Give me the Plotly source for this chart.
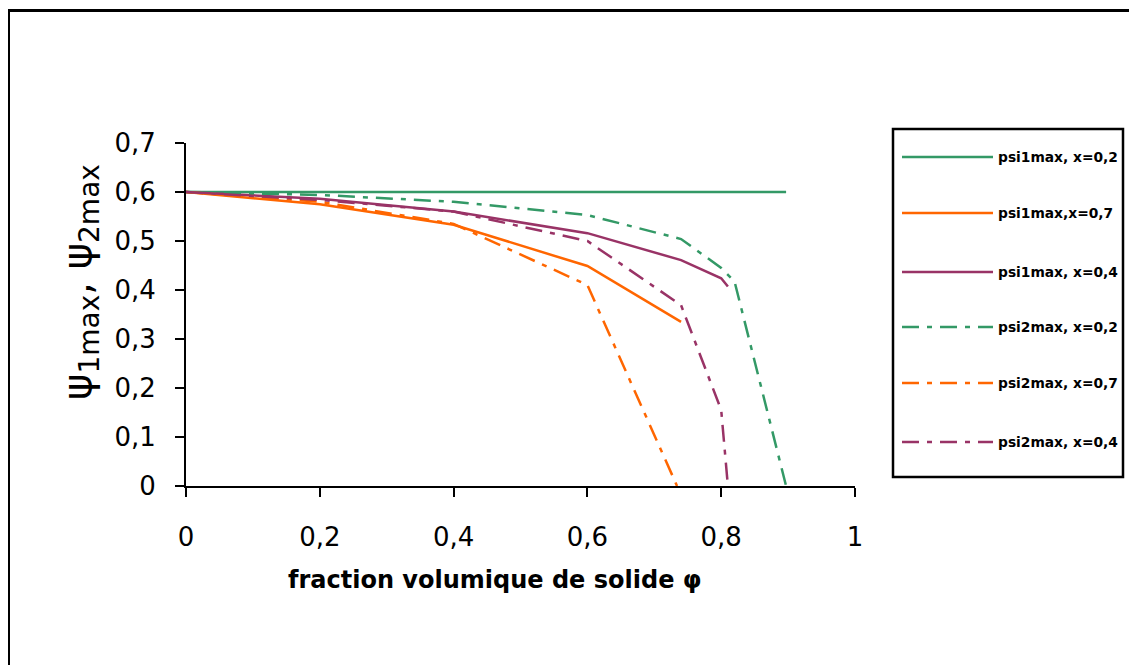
import plotly.graph_objects as go

# ---- data ----
phi_g1 = [0, 0.2, 0.4, 0.6, 0.74, 0.8, 0.82, 0.897]
psi1_x02 = [0.6, 0.6, 0.6, 0.6, 0.6, 0.6, 0.6, 0.6]

phi_o1 = [0, 0.2, 0.4, 0.6, 0.74]
psi1_x07 = [0.6, 0.575, 0.533, 0.449, 0.335]

phi_p1 = [0, 0.2, 0.4, 0.6, 0.74, 0.8, 0.81]
psi1_x04 = [0.6, 0.586, 0.56, 0.516, 0.461, 0.424, 0.407]

phi_g2 = [0, 0.2, 0.4, 0.6, 0.74, 0.8, 0.82, 0.897]
psi2_x02 = [0.6, 0.594, 0.58, 0.553, 0.504, 0.445, 0.417, 0.0]

phi_o2 = [0, 0.2, 0.4, 0.6, 0.734]
psi2_x07 = [0.6, 0.58, 0.535, 0.41, 0.0]

phi_p2 = [0, 0.2, 0.4, 0.6, 0.74, 0.8, 0.81]
psi2_x04 = [0.6, 0.584, 0.56, 0.5, 0.369, 0.155, 0.0]

names = ["psi1max, x=0,2", "psi1max,x=0,7", "psi1max, x=0,4",
         "psi2max, x=0,2", "psi2max, x=0,7", "psi2max, x=0,4"]

GREEN, ORANGE, PURPLE = "#339966", "#FF6600", "#993366"
DASH = "17px,8px,5px,8px"

series = [
    (phi_g1, psi1_x02, GREEN, "solid"),
    (phi_o1, psi1_x07, ORANGE, "solid"),
    (phi_p1, psi1_x04, PURPLE, "solid"),
    (phi_g2, psi2_x02, GREEN, DASH),
    (phi_o2, psi2_x07, ORANGE, DASH),
    (phi_p2, psi2_x04, PURPLE, DASH),
]

W, H = 1137, 665
OFF = 8  # page body margin
L, R, T, B = 186, 855, 143, 486  # plot area in screen px


def px(x):
    return (x - L) / (R - L)


def py(y):
    return (B - y) / (B - T)


fig = go.Figure()
for (xs, ys, col, dash), nm in zip(series, names):
    fig.add_trace(go.Scatter(x=xs, y=ys, mode="lines", name=nm,
                             line=dict(color=col, width=2.5, dash=dash),
                             showlegend=False))

shapes = []
annotations = []
# outer frame
shapes.append(dict(type="rect", xref="paper", yref="paper",
                   x0=px(8.5), x1=px(1160), y0=py(690), y1=py(10.5),
                   line=dict(color="black", width=3)))
# legend box
shapes.append(dict(type="rect", xref="paper", yref="paper",
                   x0=px(893), x1=px(1123), y0=py(477), y1=py(129),
                   line=dict(color="black", width=2.5), fillcolor="white", layer="below"))
leg_y = [157, 213, 272, 327, 383, 442]
for (xs, ys, col, dash), nm, yy in zip(series, names, leg_y):
    shapes.append(dict(type="line", xref="paper", yref="paper",
                       x0=px(902), x1=px(993), y0=py(yy), y1=py(yy),
                       line=dict(color=col, width=2.5, dash=dash)))
    annotations.append(dict(xref="paper", yref="paper", x=px(996), y=py(yy),
                            xanchor="left", yanchor="middle", showarrow=False,
                            text="<b>%s</b>" % nm,
                            font=dict(family="DejaVu Sans", size=13.8, color="black")))

# axis titles
annotations.append(dict(xref="paper", yref="paper", x=px(495), y=py(580),
                        xanchor="center", yanchor="middle", showarrow=False,
                        text="<b>fraction volumique de solide φ</b>",
                        font=dict(family="DejaVu Sans", size=24, color="black")))
annotations.append(dict(xref="paper", yref="paper", x=px(80), y=py(282),
                        xanchor="center", yanchor="middle", showarrow=False, textangle=-90,
                        text="ψ<sub>1max</sub>, ψ<sub>2max</sub>",
                        font=dict(family="DejaVu Sans", size=40, color="black")))

axis_common = dict(showline=True, linecolor="black", linewidth=2, ticks="outside",
                   ticklen=9, tickwidth=2, tickcolor="black", showgrid=False,
                   zeroline=False, tickfont=dict(family="DejaVu Sans", size=26, color="black"))

fig.update_layout(
    width=W, height=H,
    margin=dict(l=L - OFF, r=W - (R - OFF), t=T - OFF, b=H - (B - OFF), pad=0),
    paper_bgcolor="white", plot_bgcolor="white",
    separators=",.",
    xaxis=dict(range=[0, 1], dtick=0.2, tick0=0, ticklabelstandoff=18, **axis_common),
    yaxis=dict(range=[0, 0.7], dtick=0.1, tick0=0, ticklabelstandoff=14, **axis_common),
    shapes=shapes, annotations=annotations, showlegend=False,
)

fig.write_html("out.html")
